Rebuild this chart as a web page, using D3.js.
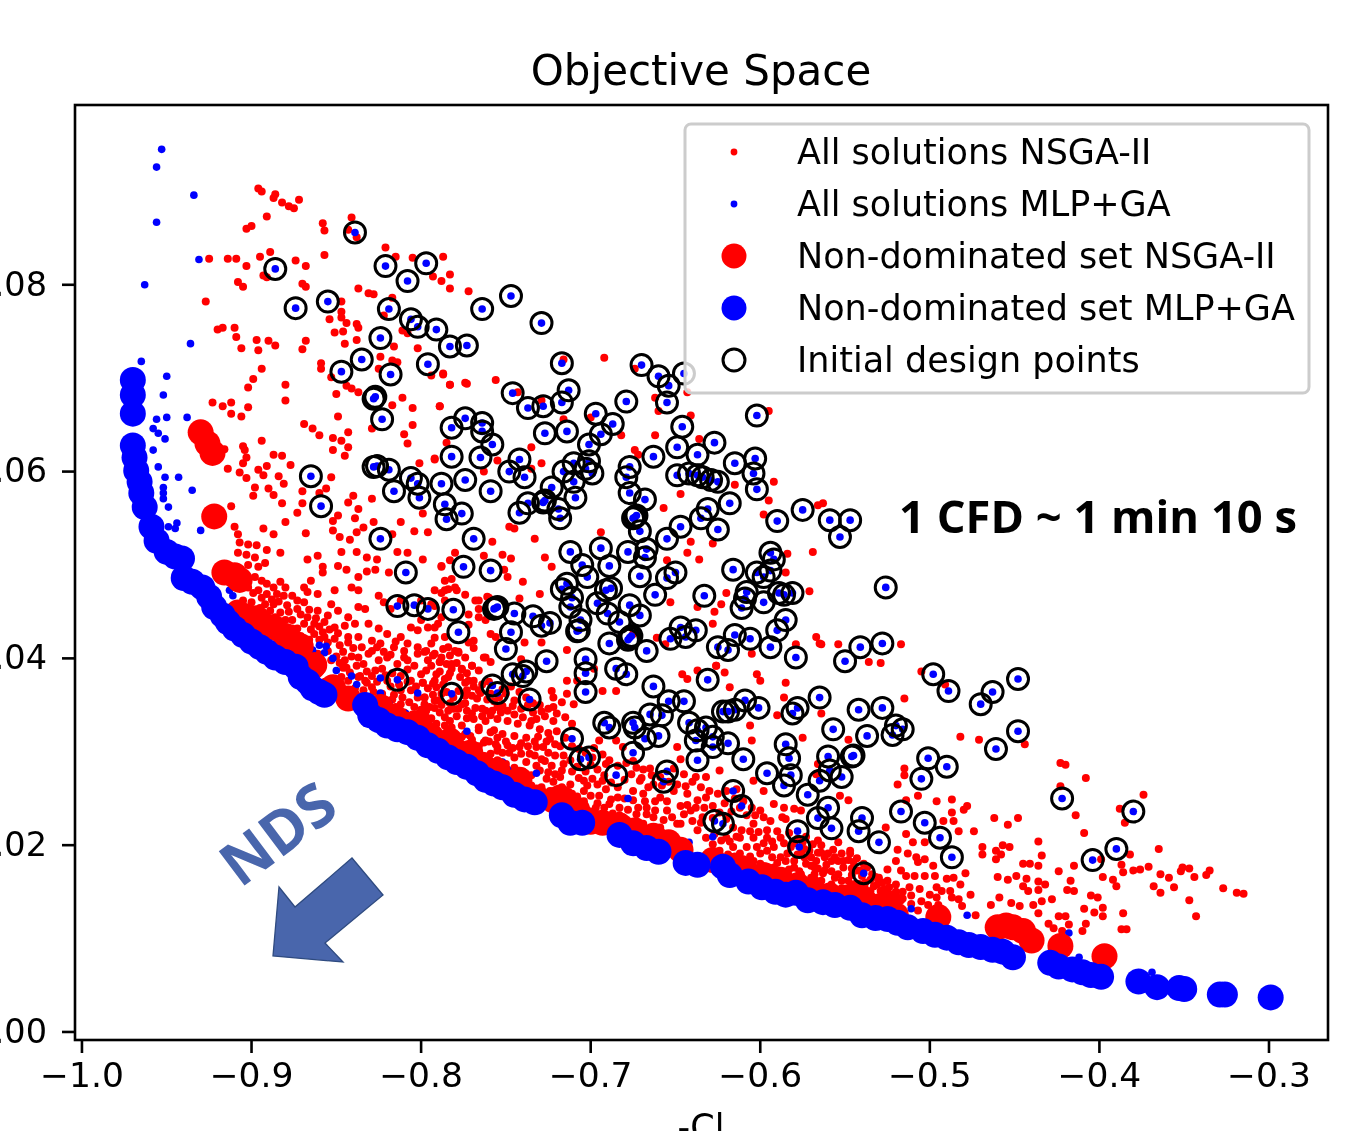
<!DOCTYPE html>
<html>
<head>
<meta charset="utf-8">
<title>Objective Space</title>
<script src="https://cdn.jsdelivr.net/npm/d3@7"></script>
<style>
    html, body { margin: 0; padding: 0; background: #fff; overflow: hidden; }
    svg { display: block; }
    text { font-family: "DejaVu Sans", sans-serif; fill: #000; }
</style>
</head>
<body>
<script>
// values, [-Cl, y axis value]
var initialDesign = [[-.839,.0856],[-.886,.0817],[-.821,.0820],[-.797,.0823],[-.808,.0804],[-.874,.0775],[-.855,.0782],[-.819,.0774],[-.806,.0763],[-.802,.0755],[-.791,.0752],[-.783,.0734],[-.773,.0735],[-.824,.0743],[-.835,.0720],[-.847,.0707],[-.818,.0704],[-.796,.0715],[-.828,.0678],[-.827,.0680],[-.823,.0656],
[-.764,.0774],[-.747,.0788],[-.729,.0759],[-.717,.0716],[-.713,.0687],[-.746,.0684],[-.737,.0668],[-.728,.0670],[-.717,.0674],[-.679,.0675],[-.697,.0662],[-.687,.0651],[-.694,.0640],[-.727,.0641],[-.714,.0643],[-.670,.0714],[-.660,.0702],[-.654,.0692],[-.645,.0705],[-.655,.0674],[-.602,.0660],
[-.782,.0647],[-.774,.0657],[-.764,.0652],[-.764,.0643],[-.758,.0629],[-.782,.0616],[-.765,.0615],[-.701,.0629],[-.646,.0648],[-.627,.0631],[-.649,.0626],[-.637,.0618],[-.663,.0616],[-.603,.0614],[-.615,.0609],[-.742,.0613],[-.748,.0600],[-.739,.0594],[-.788,.0587],[-.774,.0591],[-.759,.0579],[-.786,.0565],[-.785,.0549],[-.776,.0555],[-.769,.0528],[-.775,.0498],[-.759,.0494],
[-.710,.0609],[-.701,.0611],[-.703,.0603],[-.699,.0598],[-.716,.0600],[-.710,.0589],[-.723,.0583],[-.709,.0572],[-.737,.0566],[-.742,.0556],[-.727,.0569],[-.728,.0567],[-.719,.0560],[-.718,.0550],[-.677,.0605],[-.679,.0594],[-.677,.0577],[-.668,.0570],[-.674,.0551],[-.673,.0553],[-.675,.0550],[-.671,.0536],
[-.649,.0596],[-.642,.0598],[-.637,.0596],[-.634,.0594],[-.629,.0591],[-.625,.0589],[-.604,.0598],[-.602,.0581],[-.618,.0566],[-.631,.0560],[-.635,.0550],[-.625,.0538],[-.647,.0541],[-.655,.0528],[-.590,.0547],[-.575,.0559],[-.559,.0548],[-.547,.0548],[-.553,.0530],[-.526,.0476],
[-.712,.0514],[-.694,.0518],[-.705,.0500],[-.689,.0499],[-.678,.0514],[-.667,.0517],[-.668,.0508],[-.702,.0487],[-.671,.0488],[-.655,.0486],[-.650,.0492],[-.616,.0495],[-.594,.0513],[-.592,.0506],[-.602,.0492],[-.598,.0487],[-.594,.0494],[-.608,.0471],[-.609,.0464],[-.611,.0454],[-.598,.0460],[-.589,.0470],[-.586,.0468],[-.581,.0470],[-.585,.0441],[-.590,.0430],[-.594,.0412],[-.606,.0421],[-.615,.0425],[-.619,.0409],[-.625,.0412],[-.579,.0401],[-.633,.0467],[-.662,.0468],
[-.717,.0474],[-.714,.0480],[-.711,.0465],[-.712,.0455],[-.706,.0441],[-.707,.0430],[-.708,.0429],[-.691,.0473],[-.688,.0475],[-.696,.0459],[-.690,.0448],[-.677,.0457],[-.671,.0446],[-.683,.0439],[-.677,.0422],[-.678,.0420],[-.676,.0424],[-.689,.0416],[-.667,.0408],[-.647,.0433],[-.653,.0421],[-.644,.0423],[-.638,.0430],
[-.781,.0452],[-.778,.0428],[-.756,.0454],[-.757,.0453],[-.755,.0455],[-.745,.0448],[-.747,.0428],[-.750,.0410],[-.734,.0445],[-.729,.0435],[-.724,.0438],[-.726,.0397],[-.703,.0399],[-.865,.0595],[-.859,.0563],[-.828,.0605],[-.826,.0606],[-.819,.0602],[-.806,.0593],[-.802,.0587],[-.816,.0579],[-.801,.0572],[-.824,.0528],[-.809,.0492],[-.814,.0456],[-.804,.0457],[-.796,.0453],
[-.814,.0377],[-.782,.0362],[-.758,.0371],[-.755,.0363],[-.746,.0383],[-.738,.0386],[-.740,.0381],[-.736,.0356],[-.703,.0384],[-.703,.0364],[-.685,.0389],[-.679,.0383],[-.663,.0370],[-.631,.0377],[-.711,.0314],[-.706,.0292],[-.701,.0294],[-.685,.0275],[-.675,.0299],[-.692,.0331],[-.689,.0326],[-.675,.0331],[-.674,.0326],[-.668,.0314],[-.665,.0340],[-.658,.0339],[-.660,.0317],[-.654,.0354],[-.645,.0354],[-.642,.0331],[-.637,.0323],[-.632,.0326],[-.638,.0312],[-.628,.0305],[-.628,.0316],[-.619,.0309],[-.637,.0291],[-.622,.0343],[-.619,.0343],[-.615,.0345],[-.609,.0355],[-.601,.0347],[-.610,.0292],[-.596,.0277],[-.655,.0279],[-.657,.0268],[-.616,.0258],[-.611,.0242],[-.627,.0226],[-.622,.0223],
[-.585,.0308],[-.583,.0293],[-.582,.0275],[-.586,.0264],[-.572,.0254],[-.581,.0341],[-.578,.0347],[-.565,.0358],[-.578,.0215],[-.577,.0198],[-.566,.0229],[-.550,.0397],[-.541,.0412],[-.528,.0416],[-.498,.0383],[-.489,.0365],[-.463,.0364],[-.448,.0378],[-.470,.0351],[-.448,.0322],[-.461,.0303],[-.542,.0345],[-.528,.0347],[-.557,.0324],[-.537,.0317],[-.520,.0328],[-.516,.0324],[-.522,.0318],[-.560,.0295],[-.545,.0296],[-.546,.0295],[-.559,.0280],[-.552,.0273],[-.565,.0269],[-.501,.0293],[-.490,.0284],[-.505,.0271],[-.517,.0236],[-.503,.0224],[-.494,.0208],[-.487,.0187],[-.560,.0240],[-.558,.0218],[-.540,.0229],[-.542,.0215],[-.530,.0203],[-.539,.0170],[-.422,.0250],[-.380,.0236],[-.390,.0196],[-.404,.0184]];

// MLP+GA points that are not also initial design points
var extraMlp = [[-.953,.0945],[-.956,.0926],[-.934,.0896],[-.956,.0867],[-.931,.0827],[-.963,.0800],[-.936,.0737],[-.965,.0718],[-.950,.0702],[-.952,.0682],[-.956,.0656],[-.950,.0658],[-.938,.0658],[-.958,.0646],[-.955,.0641],[-.951,.0635],[-.958,.0623],[-.955,.0605],[-.951,.0594],[-.943,.0594],[-.935,.0580],[-.952,.0583],[-.952,.0577],[-.952,.0571],[-.949,.0562],[-.949,.0541],[-.944,.0545],[-.945,.0539],[-.930,.0537],[-.913,.0473],[-.911,.0467],[-.869,.0412],[-.864,.0409],[-.860,.0414],[-.856,.0413],[-.857,.0406],[-.852,.0400],[-.850,.0387],[-.841,.0381],[-.838,.0372],[-.824,.0379],[-.824,.0363],[-.819,.0352],[-.802,.0363],[-.809,.0341],[-.795,.0328],[-.773,.0322],[-.752,.0289],[-.749,.0281],[-.732,.0277],[-.678,.0250],[-.642,.0203],[-.628,.0209],[-.511,.0132],[-.478,.0125],[-.418,.0106],[-.412,.0080],[-.369,.0064]];

var allNsga = [[-.896,.0903],[-.894,.0900],[-.886,.0897],[-.887,.0893],[-.882,.0888],[-.878,.0884],[-.875,.0882],[-.872,.0891],[-.891,.0873],[-.900,.0863],[-.903,.0860],[-.858,.0866],[-.857,.0858],[-.841,.0872],[-.838,.0851],[-.843,.0859],[-.889,.0835],[-.895,.0830],[-.909,.0828],[-.914,.0828],[-.925,.0828],[-.903,.0820],[-.893,.0810],[-.891,.0808],[-.874,.0826],[-.868,.0820],[-.857,.0832],[-.908,.0803],[-.905,.0798],[-.870,.0801],[-.868,.0798],[-.927,.0782],[-.837,.0796],[-.831,.0791],[-.828,.0790],[-.821,.0840],[-.815,.0830],[-.805,.0829],[-.787,.0830],[-.793,.0809],[-.788,.0804],[-.783,.0811],[-.783,.0796],[-.772,.0793],[-.817,.0786],[-.847,.0782],[-.847,.0771],[-.847,.0765],[-.844,.0759],[-.838,.0758],[-.837,.0754],[-.854,.0763],[-.851,.0749],[-.846,.0750],[-.838,.0741],[-.845,.0737],[-.868,.0740],[-.870,.0731],[-.890,.0740],[-.886,.0735],[-.897,.0741],[-.896,.0730],[-.906,.0732],[-.909,.0744],[-.910,.0754],[-.917,.0754],[-.920,.0752],[-.894,.0710],[-.899,.0699],[-.902,.0690],[-.880,.0693],[-.880,.0676],[-.923,.0674],[-.912,.0674],[-.917,.0670],[-.902,.0669],[-.912,.0662],[-.906,.0659],[-.859,.0716],[-.859,.0710],[-.853,.0701],[-.844,.0692],[-.841,.0689],[-.837,.0685],[-.850,.0683],[-.849,.0659],[-.869,.0651],[-.864,.0646],[-.816,.0734],[-.824,.0723],[-.817,.0719],[-.814,.0717],[-.802,.0732],[-.787,.0705],[-.783,.0693],[-.773,.0694],[-.794,.0703],[-.825,.0710],[-.811,.0679],[-.817,.0671],[-.805,.0668],[-.789,.0670],[-.805,.0650],[-.811,.0751],[-.808,.0748],[-.822,.0767],
[-.894,.0633],[-.905,.0627],[-.904,.0623],[-.916,.0624],[-.914,.0603],[-.903,.0615],[-.905,.0609],[-.887,.0618],[-.882,.0617],[-.877,.0607],[-.896,.0602],[-.891,.0606],[-.907,.0599],[-.903,.0593],[-.893,.0596],[-.884,.0595],[-.881,.0587],[-.898,.0583],[-.899,.0574],[-.890,.0582],[-.887,.0575],[-.882,.0566],[-.912,.0563],[-.910,.0541],[-.908,.0533],[-.907,.0524],[-.902,.0522],[-.897,.0521],[-.893,.0539],[-.887,.0533],[-.880,.0546],[-.868,.0534],[-.870,.0579],[-.870,.0566],[-.873,.0556],[-.860,.0577],[-.856,.0582],[-.853,.0594],[-.852,.0547],[-.849,.0553],[-.852,.0537],[-.843,.0567],[-.840,.0574],[-.837,.0560],[-.839,.0550],[-.829,.0571],[-.828,.0546],[-.834,.0540],[-.838,.0535],[-.848,.0530],[-.842,.0527],[-.817,.0533],[-.812,.0546],[-.804,.0536],[-.796,.0535],[-.799,.0555],[-.860,.0639],[-.852,.0636],[-.847,.0633],[-.843,.0642],[-.843,.0626],[-.852,.0623],[-.845,.0617],[-.829,.0646],[-.810,.0640],[-.808,.0630],[-.792,.0614],[-.801,.0609],
[-.867,.0506],[-.861,.0510],[-.858,.0498],[-.858,.0492],[-.847,.0514],[-.838,.0514],[-.832,.0508],[-.826,.0506],[-.849,.0499],[-.844,.0495],[-.837,.0487],[-.832,.0493],[-.827,.0495],[-.819,.0492],[-.814,.0514],[-.808,.0513],[-.799,.0506],[-.788,.0499],[-.903,.0511],[-.898,.0508],[-.891,.0516],[-.883,.0513],[-.908,.0513],[-.902,.0500],[-.896,.0498],[-.892,.0502],
[-.898,.0487],[-.894,.0483],[-.891,.0480],[-.887,.0476],[-.883,.0482],[-.880,.0476],[-.902,.0476],[-.896,.0473],[-.891,.0469],[-.885,.0469],[-.881,.0467],[-.876,.0467],[-.869,.0476],[-.865,.0483],[-.867,.0471],[-.873,.0462],[-.869,.0460],[-.892,.0458],[-.887,.0458],[-.879,.0457],[-.873,.0453],[-.861,.0451],[-.855,.0446],[-.849,.0451],[-.843,.0444],[-.837,.0455],[-.833,.0453],[-.825,.0467],[-.822,.0460],[-.818,.0453],[-.812,.0462],[-.867,.0444],[-.863,.0437],[-.857,.0439],[-.851,.0433],[-.845,.0435],[-.839,.0437],[-.831,.0437],[-.825,.0432],[-.820,.0426],[-.812,.0423],[-.806,.0433],[-.800,.0441],[-.796,.0433],[-.790,.0437],[-.786,.0462],[-.780,.0476],[-.863,.0426],[-.857,.0423],[-.851,.0421],[-.843,.0423],[-.837,.0423],[-.829,.0419],[-.824,.0416],[-.816,.0412],[-.810,.0408],[-.802,.0430],[-.794,.0416],[-.786,.0423],[-.780,.0408],[-.772,.0417],[-.762,.0401],[-.768,.0462],
[-.861,.0405],[-.853,.0398],[-.845,.0398],[-.837,.0401],[-.831,.0405],[-.825,.0398],[-.820,.0401],[-.814,.0394],[-.808,.0398],[-.802,.0405],[-.796,.0398],[-.788,.0401],[-.782,.0394],[-.774,.0401],[-.766,.0387],[-.759,.0396],[-.847,.0380],[-.833,.0376],[-.827,.0387],[-.820,.0376],[-.812,.0366],[-.806,.0376],[-.800,.0383],[-.792,.0376],[-.784,.0380],[-.772,.0376],[-.766,.0366],[-.759,.0362],[-.820,.0355],[-.812,.0351],[-.804,.0348],[-.798,.0358],[-.790,.0355],[-.784,.0344],[-.776,.0351],[-.770,.0341],[-.762,.0344],[-.755,.0348],[-.802,.0333],[-.792,.0326],[-.782,.0326],[-.774,.0319],[-.766,.0326],[-.757,.0323],[-.780,.0308],[-.770,.0305],[-.762,.0312],[-.755,.0301],
[-.861,.0469],[-.851,.0473],[-.841,.0476],[-.837,.0473],[-.853,.0458],[-.792,.0473],[-.786,.0473],[-.800,.0462],[-.794,.0458],[-.766,.0444],[-.761,.0466],[-.759,.0426],[-.762,.0441],
[-.692,.0722],[-.787,.0704],[-.783,.0693],[-.774,.0695],[-.756,.0698],[-.789,.0670],[-.743,.0685],[-.729,.0676],[-.716,.0656],[-.716,.0720],[-.674,.0710],[-.662,.0679],[-.660,.0665],[-.641,.0660],[-.595,.0665],[-.643,.0685],[-.682,.0639],[-.700,.0658],[-.662,.0639],[-.636,.0635],[-.735,.0626],[-.729,.0609],[-.785,.0631],[-.792,.0613],[-.755,.0612],[-.763,.0600],[-.735,.0603],[-.674,.0623],[-.672,.0618],[-.615,.0586],[-.592,.0589],[-.647,.0576],[-.595,.0569],[-.657,.0561],[-.598,.0554],[-.566,.0564],[-.563,.0566],[-.748,.0541],[-.745,.0539],[-.733,.0528],[-.758,.0525],[-.694,.0535],[-.780,.0513],[-.763,.0510],[-.752,.0511],[-.747,.0507],[-.783,.0505],[-.788,.0498],[-.727,.0508],[-.723,.0498],[-.751,.0495],[-.749,.0487],[-.740,.0482],[-.786,.0483],[-.782,.0485],[-.788,.0470],[-.784,.0474],[-.779,.0473],[-.774,.0468],[-.766,.0462],[-.760,.0465],[-.742,.0464],[-.730,.0469],[-.766,.0453],[-.792,.0456],
[-.641,.0525],[-.628,.0523],[-.643,.0513],[-.655,.0505],[-.636,.0506],[-.569,.0514],[-.584,.0512],[-.585,.0492],[-.571,.0472],[-.620,.0470],[-.653,.0460],[-.637,.0455],[-.623,.0458],[-.627,.0450],[-.628,.0437],[-.661,.0422],[-.567,.0423],[-.565,.0416],[-.579,.0415],[-.605,.0405],[-.626,.0392],[-.656,.0415],[-.675,.0426],[-.729,.0417],[-.739,.0417],[-.756,.0423],[-.769,.0419],[-.769,.0411],[-.784,.0412],[-.778,.0406],[-.792,.0422],[-.792,.0433],[-.772,.0447],[-.772,.0436],[-.788,.0444],[-.763,.0401],[-.770,.0392],[-.714,.0409],[-.741,.0399],[-.789,.0396],[-.785,.0394],[-.776,.0388],
[-.793,.0403],[-.798,.0407],[-.778,.0407],[-.789,.0396],[-.782,.0389],[-.776,.0389],[-.770,.0392],[-.797,.0387],[-.791,.0383],[-.799,.0374],[-.793,.0373],[-.786,.0378],[-.774,.0374],[-.769,.0376],[-.798,.0358],[-.792,.0355],[-.774,.0360],[-.767,.0357],[-.764,.0346],[-.758,.0344],[-.752,.0349],[-.746,.0349],[-.740,.0337],[-.734,.0342],[-.729,.0343],[-.722,.0333],[-.797,.0344],[-.789,.0342],[-.781,.0346],[-.773,.0344],[-.769,.0335],[-.762,.0333],[-.755,.0335],[-.749,.0333],[-.743,.0330],[-.736,.0328],[-.730,.0324],[-.724,.0314],[-.799,.0332],[-.791,.0330],[-.783,.0333],[-.776,.0328],[-.766,.0323],[-.759,.0321],[-.752,.0319],[-.745,.0317],[-.738,.0315],[-.732,.0305],[-.725,.0299],[-.721,.0296],[-.716,.0287],[-.785,.0319],[-.778,.0315],[-.771,.0317],[-.763,.0310],[-.756,.0308],[-.749,.0307],[-.742,.0305],[-.736,.0298],[-.729,.0292],[-.723,.0285],[-.773,.0305],[-.767,.0299],[-.759,.0298],[-.752,.0299],[-.745,.0294],[-.738,.0289],[-.732,.0285],[-.725,.0278],[-.718,.0273],[-.712,.0265],[-.704,.0269],[-.699,.0271],[-.693,.0269],[-.711,.0255],[-.704,.0258],[-.695,.0253],[-.688,.0249],[-.697,.0240],[-.689,.0244],[-.683,.0240],[-.675,.0248],[-.667,.0240],[-.673,.0233],[-.663,.0230],[-.655,.0237],[-.649,.0223],[-.681,.0230],[-.669,.0223],[-.659,.0219],[-.651,.0208],
[-.699,.0294],[-.695,.0312],[-.685,.0312],[-.681,.0305],[-.691,.0287],[-.673,.0283],[-.665,.0282],[-.671,.0269],[-.663,.0265],[-.675,.0258],[-.669,.0255],[-.659,.0251],[-.651,.0258],[-.643,.0255],[-.647,.0242],[-.637,.0248],[-.632,.0251],[-.641,.0237],[-.634,.0230],[-.647,.0223],[-.637,.0216],[-.659,.0273],[-.645,.0276],[-.632,.0273],[-.624,.0280],[-.604,.0269],[-.598,.0258],[-.592,.0244],[-.600,.0237],[-.594,.0226],[-.587,.0230],[-.604,.0223],[-.612,.0208],[-.604,.0208],[-.596,.0208],[-.588,.0208],[-.620,.0208],[-.628,.0201],[-.612,.0191],[-.600,.0191],[-.588,.0187],[-.616,.0198],[-.608,.0198],[-.592,.0198],[-.584,.0191],[-.568,.0176],[-.580,.0176],[-.592,.0176],[-.604,.0183],[-.574,.0187],[-.567,.0162],[-.576,.0162],
[-.723,.0365],[-.722,.0358],[-.714,.0376],[-.708,.0376],[-.714,.0362],[-.717,.0353],[-.722,.0348],[-.710,.0351],[-.698,.0389],[-.693,.0365],[-.685,.0365],[-.643,.0378],[-.646,.0383],[-.637,.0387],[-.626,.0392],[-.621,.0385],[-.618,.0369],[-.602,.0383],[-.600,.0376],[-.585,.0374],[-.649,.0305],[-.606,.0328],[-.605,.0312],[-.590,.0339],[-.575,.0315],[-.647,.0292],[-.651,.0282],[-.638,.0273],[-.614,.0260],
[-.564,.0415],[-.554,.0415],[-.536,.0396],[-.529,.0395],[-.517,.0415],[-.505,.0386],[-.491,.0372],[-.586,.0358],[-.564,.0341],[-.515,.0357],[-.482,.0316],[-.471,.0313],[-.444,.0308],[-.423,.0288],[-.420,.0286],[-.408,.0272],[-.423,.0263],[-.374,.0254],[-.515,.0282],[-.515,.0275],[-.519,.0265],[-.507,.0253],[-.514,.0248],[-.496,.0247],[-.487,.0249],[-.487,.0235],[-.478,.0242],[-.480,.0238],[-.462,.0229],[-.448,.0229],[-.454,.0222],[-.414,.0232],[-.388,.0239],[-.385,.0224],[-.409,.0213],[-.436,.0204],[-.474,.0215],[-.486,.0226],[-.483,.0215],[-.492,.0226],[-.469,.0198],[-.469,.0190],[-.461,.0194],[-.457,.0200],[-.453,.0198],[-.458,.0190],[-.461,.0185],[-.434,.0189],[-.445,.0180],[-.441,.0180],[-.436,.0178],[-.415,.0178],[-.424,.0172],[-.399,.0185],[-.365,.0196],[-.382,.0190],[-.387,.0179],[-.386,.0171],[-.380,.0173],[-.376,.0174],[-.371,.0177],[-.364,.0169],[-.359,.0165],[-.351,.0176],[-.347,.0175],[-.352,.0172],[-.344,.0166],[-.335,.0173],[-.337,.0168],[-.327,.0154],[-.319,.0149],[-.315,.0148],[-.347,.0141],[-.343,.0124],[-.368,.0156],[-.364,.0149],[-.356,.0155],[-.398,.0166],[-.392,.0163],[-.390,.0156],
[-.460,.0166],[-.454,.0163],[-.449,.0167],[-.443,.0164],[-.436,.0161],[-.432,.0158],[-.417,.0162],[-.445,.0156],[-.442,.0151],[-.436,.0152],[-.419,.0152],[-.415,.0151],[-.405,.0146],[-.401,.0144],[-.459,.0144],[-.452,.0138],[-.447,.0135],[-.434,.0140],[-.428,.0142],[-.439,.0136],[-.464,.0136],[-.436,.0127],[-.424,.0124],[-.420,.0124],[-.409,.0132],[-.403,.0128],[-.398,.0133],[-.398,.0124],[-.386,.0127],[-.430,.0116],[-.427,.0111],[-.418,.0115],[-.408,.0116],[-.422,.0108],[-.410,.0108],[-.387,.0110],[-.384,.0110],
[-.514,.0212],[-.510,.0203],[-.503,.0203],[-.519,.0195],[-.513,.0191],[-.508,.0187],[-.503,.0185],[-.498,.0178],[-.520,.0183],[-.507,.0182],[-.525,.0174],[-.517,.0173],[-.514,.0167],[-.509,.0167],[-.503,.0167],[-.497,.0167],[-.490,.0164],[-.486,.0165],[-.479,.0170],[-.482,.0158],[-.525,.0162],[-.520,.0158],[-.512,.0155],[-.506,.0153],[-.496,.0155],[-.493,.0151],[-.488,.0151],[-.476,.0147],[-.529,.0151],[-.519,.0144],[-.496,.0144],[-.487,.0144],[-.483,.0142],[-.481,.0135],[-.473,.0125],[-.526,.0219],[-.547,.0191],[-.548,.0313],[-.553,.0253],[-.548,.0248],[-.566,.0287],[-.567,.0276],[-.576,.0237],[-.586,.0240],[-.580,.0239],[-.585,.0228],[-.554,.0203],[-.566,.0205],
[-.564,.0192],[-.560,.0191],[-.558,.0183],[-.567,.0183],[-.570,.0187],[-.554,.0183],[-.551,.0176],[-.547,.0194],[-.545,.0182],[-.543,.0173],[-.537,.0176],[-.532,.0166],[-.576,.0191],[-.580,.0183],[-.562,.0173],[-.554,.0169],[-.548,.0162],[-.541,.0158],[-.535,.0151],[-.529,.0144],[-.523,.0142],[-.517,.0141],[-.576,.0169],[-.568,.0169],
// dense band just above the front
[-.905,.0462],[-.899,.0470],[-.894,.0465],[-.888,.0463],[-.884,.0461],[-.878,.0450],[-.883,.0449],[-.889,.0451],[-.895,.0454],[-.901,.0455],[-.876,.0441],[-.871,.0447],[-.866,.0452],[-.862,.0443],[-.869,.0437],[-.873,.0432],[-.865,.0431],[-.860,.0434],[-.858,.0428],[-.854,.0431],[-.849,.0427],[-.855,.0417],[-.848,.0414],[-.843,.0417],[-.840,.0411],[-.835,.0412],[-.846,.0407],[-.841,.0402],[-.834,.0394],[-.829,.0408],[-.826,.0412],[-.822,.0407],[-.818,.0404],[-.823,.0389],[-.817,.0384],[-.812,.0381],[-.808,.0388],[-.804,.0392],[-.810,.0401],[-.815,.0418],[-.808,.0416],[-.802,.0412],[-.797,.0408],[-.792,.0405],[-.787,.0410],[-.783,.0403],[-.794,.0392],[-.789,.0386],[-.783,.0384],[-.779,.0395],[-.777,.0380],[-.773,.0384],[-.769,.0370],[-.764,.0372],[-.760,.0375],[-.806,.0366],[-.802,.0358],[-.807,.0353],[-.811,.0358],[-.816,.0361],[-.815,.0348],[-.810,.0342],[-.805,.0340],[-.800,.0345],[-.795,.0348],[-.794,.0336],[-.788,.0350],[-.785,.0364],[-.781,.0358],[-.778,.0365],[-.774,.0352],[-.779,.0338],[-.773,.0336],[-.768,.0347],[-.764,.0338],[-.759,.0339],[-.753,.0342],[-.749,.0344],[-.745,.0340],[-.741,.0346],[-.737,.0350],[-.732,.0335],[-.727,.0338],[-.754,.0358],[-.750,.0362],[-.745,.0355],[-.790,.0322],[-.786,.0328],[-.781,.0320],[-.776,.0316],[-.770,.0313],[-.766,.0306],[-.760,.0311],[-.755,.0315],[-.750,.0311],[-.746,.0304],[-.741,.0309],[-.737,.0306],[-.733,.0311],[-.728,.0305],[-.725,.0320],[-.720,.0322],[-.718,.0306],[-.716,.0296],[-.712,.0291],[-.708,.0284],[-.703,.0279],[-.700,.0286],[-.696,.0281],[-.692,.0275],[-.688,.0267],[-.684,.0262],[-.680,.0270],[-.676,.0276],[-.670,.0272],[-.666,.0262],[-.760,.0288],[-.755,.0291],[-.750,.0287],[-.745,.0283],[-.740,.0279],[-.735,.0275],[-.730,.0280],[-.726,.0271],[-.722,.0268],[-.717,.0262],[-.713,.0257],[-.708,.0252],[-.704,.0247],[-.700,.0253],[-.696,.0245],[-.692,.0240],[-.687,.0234],[-.683,.0232],[-.678,.0238],[-.672,.0240],[-.667,.0233],[-.662,.0237],[-.657,.0227],[-.652,.0230],[-.645,.0233],[-.640,.0226],[-.635,.0224],[-.628,.0229],[-.624,.0235],[-.620,.0228],[-.616,.0219],[-.611,.0216],[-.606,.0215],[-.601,.0214],[-.596,.0216],[-.590,.0215],[-.583,.0213],[-.578,.0207],[-.573,.0209],[-.569,.0201],[-.564,.0200],[-.632,.0208],[-.627,.0212],[-.623,.0205],[-.618,.0204],[-.614,.0209],[-.624,.0194],[-.619,.0190],[-.615,.0188],[-.610,.0185],[-.606,.0188],[-.602,.0198],[-.598,.0202],[-.596,.0194],[-.593,.0187],[-.590,.0181],[-.585,.0183],[-.582,.0198],[-.578,.0190],[-.574,.0196],[-.570,.0178],[-.566,.0175],[-.561,.0179],[-.557,.0195],[-.552,.0191],[-.548,.0184],[-.543,.0186],[-.539,.0180],[-.534,.0169],[-.528,.0160],[-.524,.0155],[-.520,.0150],[-.556,.0165],[-.552,.0162],[-.546,.0168],[-.540,.0167],[-.538,.0160],[-.533,.0156],[-.530,.0165],[-.526,.0146],[-.521,.0139],[-.516,.0150],[-.511,.0146],[-.505,.0140],[-.500,.0147],[-.495,.0136],
[-.848,.0395],[-.844,.0390],[-.838,.0392],[-.832,.0386],[-.829,.0381],[-.836,.0381],[-.843,.0376],[-.839,.0368],[-.834,.0366],[-.829,.0369],[-.826,.0375],[-.821,.0382],[-.818,.0370],[-.823,.0362],[-.817,.0356],[-.813,.0372],[-.808,.0375],[-.803,.0370],[-.799,.0374],[-.796,.0368],[-.791,.0369],[-.787,.0372],[-.788,.0362],[-.793,.0361],[-.798,.0351],[-.792,.0347],[-.786,.0337],[-.783,.0352],[-.778,.0346],[-.773,.0366],[-.770,.0360],[-.765,.0363],[-.761,.0356],[-.757,.0354],[-.752,.0367],[-.747,.0370],[-.742,.0364],[-.738,.0358],[-.734,.0352],[-.730,.0350],[-.725,.0346],[-.720,.0341],[-.715,.0337],[-.711,.0330],[-.735,.0333],[-.731,.0316],[-.726,.0311],[-.721,.0308],[-.715,.0315],[-.711,.0306],[-.707,.0303],[-.703,.0299],[-.698,.0304],[-.693,.0297],[-.689,.0291],[-.684,.0285],[-.679,.0288],[-.675,.0290],[-.669,.0281],[-.664,.0275],[-.658,.0264],[-.654,.0268],[-.649,.0265],[-.644,.0263],[-.640,.0268],[-.635,.0262],[-.630,.0258],[-.625,.0255],[-.620,.0258],[-.615,.0250],[-.610,.0247],[-.605,.0240],[-.608,.0232],[-.603,.0232],[-.598,.0230],[-.612,.0240],[-.617,.0236],[-.621,.0245],[-.628,.0242],[-.633,.0240],[-.638,.0240],[-.643,.0243],[-.655,.0247],[-.662,.0247],[-.668,.0247],[-.680,.0250],[-.684,.0251],[-.691,.0260],[-.696,.0265],[-.702,.0264],[-.707,.0272],[-.711,.0279],[-.717,.0280],[-.721,.0276],[-.727,.0290],[-.733,.0296],[-.741,.0298],[-.748,.0299],[-.755,.0305],
[-.593,.0204],[-.586,.0202],[-.580,.0202],[-.575,.0203],[-.571,.0194],[-.566,.0192],[-.562,.0187],[-.556,.0187],[-.551,.0183],[-.546,.0175],[-.541,.0173],[-.535,.0163],[-.531,.0158],[-.527,.0153],[-.522,.0147],[-.516,.0143],[-.511,.0137],[-.507,.0130],[-.501,.0136],[-.563,.0170],[-.558,.0172],[-.573,.0180],[-.583,.0174],[-.588,.0170],[-.595,.0176],[-.600,.0180],[-.606,.0178],[-.612,.0183],[-.585,.0168],[-.577,.0172],[-.570,.0165],[-.564,.0162],[-.558,.0158],[-.552,.0154],[-.546,.0152],[-.540,.0150],[-.535,.0145],
[-.900,.0460],[-.893,.0447],[-.886,.0444],[-.880,.0441],[-.876,.0432],[-.871,.0424],[-.866,.0420],[-.860,.0420],[-.855,.0408],[-.850,.0402],[-.846,.0390],[-.842,.0385],[-.837,.0380],[-.832,.0374],[-.828,.0364],[-.824,.0358],[-.819,.0348],[-.814,.0340],[-.809,.0332],[-.804,.0327],[-.799,.0322],[-.794,.0316],[-.788,.0313],[-.783,.0320],[-.778,.0306],[-.772,.0298],[-.766,.0294],[-.762,.0295],[-.757,.0282],[-.752,.0277],[-.746,.0275],[-.741,.0268],[-.735,.0264],[-.729,.0262],[-.724,.0258],[-.720,.0254],[-.716,.0249],[-.711,.0245],[-.705,.0240],[-.700,.0236],[-.695,.0231],[-.690,.0227],[-.684,.0226],[-.678,.0226],[-.672,.0221],[-.666,.0217],[-.660,.0214]];

var ndsNsga = [[-.930,.0642],[-.926,.0630],[-.923,.0620],[-.922,.0552],[-.916,.0492],[-.910,.0489],[-.907,.0484],[-.911,.0445],[-.908,.0449],[-.901,.0441],[-.897,.0443],[-.891,.0434],[-.887,.0433],[-.880,.0424],[-.877,.0419],[-.871,.0413],[-.864,.0391],[-.863,.0393],[-.855,.0366],[-.852,.0369],[-.843,.0357],[-.824,.0348],[-.815,.0336],[-.808,.0329],[-.801,.0331],[-.795,.0318],[-.789,.0306],[-.783,.0312],[-.780,.0302],[-.771,.0299],[-.764,.0286],[-.759,.0274],[-.755,.0280],[-.750,.0268],[-.742,.0270],[-.742,.0259],[-.732,.0251],[-.722,.0248],[-.718,.0251],[-.714,.0240],[-.708,.0238],[-.706,.0231],[-.700,.0225],[-.693,.0224],[-.683,.0221],[-.674,.0216],[-.663,.0210],[-.654,.0203],[-.647,.0195],[-.628,.0184],[-.618,.0178],[-.609,.0173],[-.598,.0168],[-.588,.0163],[-.578,.0157],[-.569,.0152],[-.559,.0146],[-.549,.0144],[-.543,.0149],[-.538,.0139],[-.529,.0135],[-.525,.0138],[-.520,.0125],[-.495,.0123],[-.460,.0112],[-.455,.0114],[-.451,.0112],[-.445,.0108],[-.440,.0098],[-.423,.0092],[-.397,.0081]];

var ndsMlp = [[-.970,.0698],[-.970,.0682],[-.970,.0662],[-.970,.0628],[-.969,.0615],[-.968,.0601],[-.966,.0589],[-.965,.0577],[-.963,.0562],[-.959,.0541],[-.956,.0526],[-.950,.0514],[-.945,.0509],[-.941,.0507],[-.940,.0486],[-.935,.0482],[-.929,.0476],[-.925,.0466],[-.922,.0455],[-.917,.0446],[-.914,.0439],[-.910,.0432],[-.905,.0425],[-.900,.0418],[-.895,.0412],[-.891,.0407],[-.886,.0401],[-.880,.0396],[-.874,.0391],[-.871,.0380],[-.867,.0375],[-.864,.0368],[-.860,.0364],[-.857,.0361],[-.833,.0350],[-.830,.0339],[-.825,.0334],[-.820,.0328],[-.814,.0324],[-.808,.0321],[-.802,.0315],[-.796,.0307],[-.790,.0301],[-.784,.0294],[-.779,.0289],[-.773,.0284],[-.767,.0277],[-.762,.0270],[-.757,.0266],[-.752,.0262],[-.745,.0254],[-.739,.0249],[-.733,.0246],[-.717,.0232],[-.712,.0224],[-.705,.0224],[-.683,.0211],[-.675,.0202],[-.667,.0197],[-.660,.0193],[-.644,.0181],[-.637,.0179],[-.622,.0177],[-.618,.0168],[-.607,.0161],[-.599,.0155],[-.591,.0150],[-.585,.0147],[-.579,.0149],[-.572,.0141],[-.563,.0139],[-.556,.0136],[-.547,.0133],[-.540,.0125],[-.532,.0122],[-.525,.0121],[-.519,.0117],[-.513,.0112],[-.504,.0108],[-.497,.0104],[-.490,.0101],[-.483,.0096],[-.477,.0093],[-.470,.0091],[-.463,.0088],[-.457,.0086],[-.451,.0080],[-.429,.0074],[-.424,.0070],[-.416,.0067],[-.410,.0064],[-.405,.0061],[-.399,.0059],[-.377,.0054],[-.366,.0048],[-.353,.0047],[-.350,.0046],[-.329,.0040],[-.326,.0040],[-.299,.0037]];

var xTicks = [-1.0, -0.9, -0.8, -0.7, -0.6, -0.5, -0.4, -0.3];
var yTicks = [0, 0.02, 0.04, 0.06, 0.08];
var legendLabels = ["All solutions NSGA-II", "All solutions MLP+GA", "Non-dominated set NSGA-II", "Non-dominated set MLP+GA", "Initial design points"];

window.onload = function() {
    var w = 1348, h = 1131;
    var left = 75, right = 1328, top = 105, bottom = 1040;

    var svg = d3.select("body").append("svg")
        .attr("width", w)
        .attr("height", h);

    // the source is a slightly soft screenshot
    var defs = svg.append("defs");
    defs.append("filter").attr("id", "soft")
        .attr("x", "-5%").attr("y", "-5%").attr("width", "110%").attr("height", "110%")
        .append("feGaussianBlur").attr("stdDeviation", 0.5);

    var root = svg.append("g").attr("filter", "url(#soft)");

    var x = d3.scaleLinear().domain([-1.0041, -0.2652]).range([left, right]);
    var y = d3.scaleLinear().domain([-0.00086, 0.09925]).range([bottom, top]);

    function dots(name, data, r, color) {
        root.append("g").selectAll("." + name)
            .data(data)
            .enter()
            .append("circle")
            .attr("class", name)
            .attr("cx", function(d) { return x(d[0]); })
            .attr("cy", function(d) { return y(d[1]); })
            .attr("r", r)
            .style("fill", color);
    }

    dots("allNsga", allNsga, 4, "#ff0000");
    dots("allMlp", initialDesign.concat(extraMlp), 3.8, "#0000ff");
    dots("ndsNsga", ndsNsga, 13, "#ff0000");
    dots("ndsMlp", ndsMlp, 13, "#0000ff");

    // open circles for the initial design
    root.append("g").selectAll(".initial")
        .data(initialDesign)
        .enter()
        .append("circle")
        .attr("class", "initial")
        .attr("cx", function(d) { return x(d[0]); })
        .attr("cy", function(d) { return y(d[1]); })
        .attr("r", 10.5)
        .style("fill", "none")
        .style("stroke", "#000")
        .style("stroke-width", 3);

    // axes
    var xAxis = d3.axisBottom(x).tickValues(xTicks).tickSize(13).tickPadding(10).offset(0).tickFormat(d3.format(".1f"));
    var yAxis = d3.axisLeft(y).tickValues(yTicks).tickSize(13).tickPadding(15).offset(0).tickFormat(d3.format(".2f"));

    var gx = root.append("g").attr("transform", "translate(0," + bottom + ")").call(xAxis);
    var gy = root.append("g").attr("transform", "translate(" + left + ",0)").call(yAxis);
    [gx, gy].forEach(function(g) {
        g.select(".domain").remove();
        g.selectAll("line").style("stroke", "#000").style("stroke-width", 2.6);
        g.selectAll("text").style("font-family", '"DejaVu Sans"').style("fill", "#000");
    });
    gx.selectAll("text").style("font-size", "34.5px");
    gy.selectAll("text").style("font-size", "33.5px");

    root.append("rect")
        .attr("x", left).attr("y", top)
        .attr("width", right - left).attr("height", bottom - top)
        .style("fill", "none")
        .style("stroke", "#000")
        .style("stroke-width", 2.6);

    root.append("text")
        .attr("x", 701).attr("y", 85)
        .attr("text-anchor", "middle")
        .style("font-size", "42px")
        .text("Objective Space");

    root.append("text")
        .attr("x", 701).attr("y", 1139)
        .attr("text-anchor", "middle")
        .style("font-size", "35px")
        .text("-Cl");

    // legend, partly see-through like matplotlib's
    root.append("rect")
        .attr("x", 685).attr("y", 124)
        .attr("width", 624).attr("height", 269)
        .attr("rx", 6)
        .style("fill", "#fff")
        .style("fill-opacity", 0.8)
        .style("stroke", "#cccccc")
        .style("stroke-width", 3);

    var legendMarks = [
        {r: 3.4, fill: "#ff0000", stroke: "none"},
        {r: 3.4, fill: "#0000ff", stroke: "none"},
        {r: 12.5, fill: "#ff0000", stroke: "none"},
        {r: 12.5, fill: "#0000ff", stroke: "none"},
        {r: 11, fill: "none", stroke: "#000"}
    ];
    var rows = root.append("g").selectAll(".legendRow")
        .data(legendLabels)
        .enter()
        .append("g")
        .attr("class", "legendRow")
        .attr("transform", function(d, i) { return "translate(0," + (152 + i * 52) + ")"; });
    rows.append("circle")
        .attr("cx", 734)
        .attr("r", function(d, i) { return legendMarks[i].r; })
        .style("fill", function(d, i) { return legendMarks[i].fill; })
        .style("stroke", function(d, i) { return legendMarks[i].stroke; })
        .style("stroke-width", 3);
    rows.append("text")
        .attr("x", 797).attr("y", 12)
        .style("font-size", "35px")
        .text(function(d) { return d; });

    // slide annotations on top of the plot
    root.append("text")
        .attr("x", 899).attr("y", 533)
        .attr("textLength", 398)
        .attr("lengthAdjust", "spacingAndGlyphs")
        .style("font-family", '"Open Sans"')
        .style("font-weight", 700)
        .style("font-size", "44px")
        .text("1 CFD ~ 1 min 10 s");

    root.append("text")
        .attr("transform", "translate(281,838) rotate(-37)")
        .attr("text-anchor", "middle")
        .attr("dominant-baseline", "middle")
        .style("font-family", '"Open Sans"')
        .style("font-weight", 700)
        .style("font-size", "60px")
        .style("fill", "#4a66ac")
        .text("NDS");

    var arrow = [[352,858],[383,895],[325,943],[343,962],[273,956],[279,887],[295,907]];
    root.append("polygon")
        .attr("points", arrow.join(" "))
        .style("fill", "#4a66ac")
        .style("stroke", "#2f4b80")
        .style("stroke-width", 1.3);
};
</script>
</body>
</html>
